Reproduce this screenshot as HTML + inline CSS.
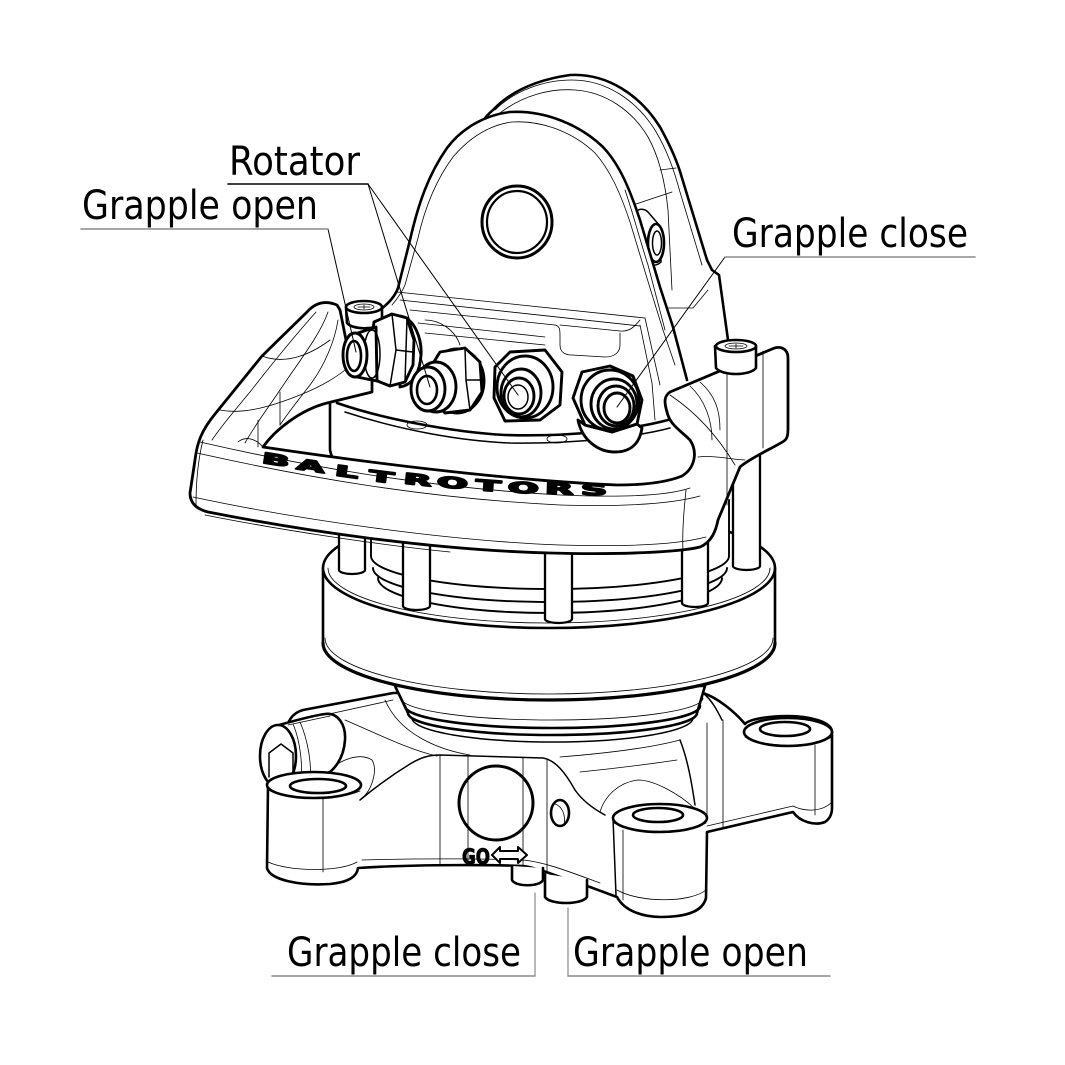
<!DOCTYPE html>
<html><head><meta charset="utf-8">
<style>
html,body{margin:0;padding:0;background:#fff;}
svg{display:block;}
.k{stroke-width:2.6}
.f{stroke-width:2.9}
.m{stroke-width:1.5}
.t{stroke-width:0.8}
</style></head><body>
<svg width="1065" height="1065" viewBox="0 0 1065 1065" xmlns="http://www.w3.org/2000/svg">
<rect width="1065" height="1065" fill="#fff"/>
<g fill="none" stroke="#000" stroke-linejoin="round" stroke-linecap="round">

<!-- ================= BASE ================= -->
<path class="k" fill="#fff" d="M393,693 L303,710 C292,713 287,722 287,730 L280,780 L268,786 L267,868 C270,880 300,886 330,884 C350,882 357,876 358,868 C420,864 500,865 523,866 C540,868 560,878 590,887 L617,897 C625,912 645,917 661,917 C690,917 703,910 706,898 L707,832 L793,812 C800,822 815,826 825,822 C831,818 832,812 832,808 L832,732 C832,722 810,716 788,716 C765,716 748,720 745,724 C735,712 718,698 703,693 Z"/>
<path class="m" d="M360,800 C372,790 392,775 410,764 C420,758 428,755 440,755 L543,758 C555,760 565,772 575,790 C582,800 592,808 605,815"/>
<path class="t" d="M440,755 L440,865 M468,756 L468,865 M523,757 L523,866 M547,760 L547,871 M323,797 L323,872 M623,830 L623,900 M707,723 L707,818 M723,720 L723,828 M815,745 L815,815"/>
<path class="t" d="M268,862 C290,872 340,872 357,862 M617,890 C640,903 690,903 706,890 M362,860 C430,858 500,859 523,860 C545,862 570,872 600,883 M707,826 L793,806 C805,812 822,812 832,802"/>
<path class="t" d="M320,716 L393,700 M345,720 C380,735 410,750 437,756 M560,757 C610,753 650,748 680,740 M580,772 C620,768 650,764 677,760 M385,700 C400,735 440,750 470,755"/>
<path class="m" d="M680,740 C688,760 692,785 695,805 M703,693 C712,700 718,712 722,720"/>
<path class="t" d="M330,770 C340,760 360,752 372,760 C378,770 372,790 362,798 M600,812 C605,795 620,782 638,780 C655,780 680,795 693,807"/>
<path class="m" d="M613,818 L616,895"/>
<!-- plug -->
<ellipse cx="496" cy="803" rx="37" ry="37" stroke-width="3"/>
<text x="462" y="864" font-family="DejaVu Sans, Liberation Sans, sans-serif" font-weight="bold" font-size="21" fill="#000" stroke="#000" stroke-width="0.9" textLength="28" lengthAdjust="spacingAndGlyphs">GO</text>
<path stroke-width="2" fill="#fff" d="M492,855 L500,847 L500,851 L518,851 L518,847 L527,855 L518,863 L518,859 L500,859 L500,863 Z"/>
<!-- small hole -->
<ellipse class="k" cx="560" cy="813" rx="9" ry="13"/>
<path class="t" d="M555,804 C562,806 566,815 564,825"/>
<!-- ports -->
<path class="k" fill="#fff" d="M512,866 L512,880 C515,887 540,887 543,880 L543,868"/>
<path class="k" fill="#fff" d="M545,874 L545,897 C550,905 582,905 587,897 L587,880"/>
<!-- left side fitting -->
<path class="k" fill="#fff" d="M272,727 C290,722 310,716 325,714 C338,712 346,725 345,740 C344,755 338,765 330,772 L290,786 Z"/>
<path class="t" d="M288,725 L330,716 M293,724 C300,740 304,770 300,786 M300,722 C308,740 312,765 310,782"/>
<ellipse class="k" fill="#fff" cx="278" cy="756" rx="18" ry="31"/>
<path class="m" d="M269,777 L269,753 L281,744 L293,753 L293,777"/>
<!-- bosses -->
<ellipse class="k" fill="#fff" cx="314" cy="785" rx="47" ry="13"/>
<ellipse class="k" cx="318" cy="786" rx="28" ry="7"/>
<path class="t" d="M270,790 C290,800 340,800 360,791"/>
<ellipse class="k" fill="#fff" cx="660" cy="818" rx="47" ry="14"/>
<ellipse class="k" cx="658" cy="815" rx="25" ry="7"/>
<path class="t" d="M614,823 C635,834 685,834 706,823"/>
<ellipse class="k" fill="#fff" cx="788" cy="732" rx="44" ry="14"/>
<ellipse class="k" cx="785" cy="729" rx="25" ry="7"/>
<path class="t" d="M745,737 C765,748 812,748 832,737"/>

<!-- ================= NECK ================= -->
<path class="k" fill="#fff" d="M395,686 L408,713 A144.5,22 0 0 0 697,713 L705,686 Z"/>
<path class="k" d="M405,706 A147.5,22 0 0 0 700,706"/>
<path class="t" d="M401,698 A151,22 0 0 0 703,698"/>
<path class="m" d="M412,718 A140.5,24 0 0 0 693,718"/>

<!-- ================= CYLINDER ================= -->
<path class="k" fill="#fff" d="M323,568 L323,643 A226,57 0 0 0 775,643 L775,568 Z"/>
<path d="M323,643 A226,57 0 0 0 775,643" stroke-width="3.2"/>
<path class="t" d="M325,638 A224,56 0 0 0 773,638"/>
<ellipse class="k" fill="#fff" cx="549" cy="568" rx="226" ry="60"/>
<path class="t" d="M328,568 A221,55 0 0 0 770,568"/>

<!-- drum -->
<path fill="#fff" stroke="none" d="M371,500 L371,556 A179,33 0 0 0 729,556 L729,500 Z"/>
<path stroke-width="1.9" d="M371,500 L371,556 A179,33 0 0 0 729,556 L729,500"/>
<path stroke-width="1.9" d="M373,568 A177,34 0 0 0 727,568"/>
<path stroke-width="1.9" d="M378,578 A172,35 0 0 0 722,578"/>

<!-- rods -->
<path stroke-width="2.3" fill="#fff" d="M339,500 L339,570 A13,4 0 0 0 365,570 L365,500"/>
<path stroke-width="2.3" fill="#fff" d="M403,500 L403,606 A13.5,4 0 0 0 430,606 L430,500"/>
<path stroke-width="2.3" fill="#fff" d="M545,500 L545,619 A13.5,4 0 0 0 572,619 L572,500"/>
<path stroke-width="2.3" fill="#fff" d="M682,500 L682,603 A13,4 0 0 0 708,603 L708,500"/>
<path stroke-width="2.3" fill="#fff" d="M733,420 L733,566 A13.5,4 0 0 0 760,566 L760,420"/>

<!-- ================= EAR BACK PLATE ================= -->
<path fill="#fff" stroke="none" d="M470,160 C478,135 485,120 493,110 C510,92 535,80 570,75 C607,73 640,95 660,127 C670,145 677,160 682,178 L707,260 L712,270 L719,275 L728,333 L728,420 L470,420 Z"/>
<path class="k" d="M480,125 C485,118 488,114 493,110 C510,92 535,80 570,75 C607,73 640,95 660,127 C670,145 677,160 682,178 L707,260 L712,270 L719,275 L728,340"/>
<path class="t" d="M495,110 C515,90 545,80 572,80 C606,80 636,100 655,130 C667,150 674,170 680,192 L702,265"/>
<path class="t" d="M500,113 C522,96 550,88 575,90 C605,92 632,110 648,137 C658,155 665,180 668,210 L672,290"/>
<path class="t" d="M633,205 L672,192 M657,308 L693,308 L708,290 M660,170 L676,168"/>

<!-- side fitting -->
<path class="m" fill="#fff" d="M632,228 C630,212 640,205 648,212 L660,226 L661,262 C655,268 645,265 640,255 Z"/>
<ellipse class="k" fill="#fff" cx="656" cy="243" rx="8" ry="19"/>
<ellipse class="m" cx="657" cy="243" rx="4.5" ry="12"/>

<!-- ================= EAR FRONT PLATE ================= -->
<path fill="#fff" stroke="none" d="M380,310 C390,302 395,296 398,288 L410,240 C418,205 428,175 447,148 C462,128 485,115 510,112 C545,110 580,125 603,147 C620,165 630,190 640,220 L660,287 L673,327 L687,378 L687,420 L380,420 Z"/>
<path class="k" d="M380,310 C390,302 395,296 398,288 L410,240 C418,205 428,175 447,148 C462,128 485,115 510,112 C545,110 580,125 603,147 C620,165 630,190 640,220 L660,287 L673,327 L687,380"/>
<path class="t" d="M392,305 C398,298 402,292 405,285 L418,238 C425,207 436,180 453,157 C470,137 490,125 512,122 C543,120 574,133 595,153 C610,170 620,192 630,222 L650,288 L663,330 L675,365"/>
<path class="t" d="M625,190 C632,210 640,240 648,265 L665,330"/>
<!-- hole -->
<ellipse cx="517" cy="222" rx="35" ry="36" stroke-width="3"/>
<ellipse cx="517" cy="222" rx="30" ry="31" stroke-width="2.2"/>

<!-- ear base / block lines -->
<path class="t" d="M397,292 L645,318 M400,300 L640,326 M410,310 L555,325 C560,326 560,330 560,336 L560,345 C560,352 565,355 572,355 L605,357 C615,357 620,352 620,345 L620,333 M560,325 L620,331 C630,332 635,326 640,320"/>
<path class="t" d="M418,323 L545,337 M425,333 L545,345 M425,320 C440,320 455,330 460,345 M640,325 L652,383 L655,420 M645,318 L660,385"/>
<!-- deck -->
<path class="k" d="M337,403 C380,418 450,432 505,435 C570,437 630,430 668,420"/>
<path class="m" d="M345,412 C400,430 460,441 510,443 C580,444 640,436 670,428"/>
<ellipse class="t" cx="417" cy="425" rx="10" ry="4"/>
<ellipse class="t" cx="557" cy="439" rx="10" ry="4"/>
<path class="k" d="M330,403 L330,450 C332,462 340,467 355,470"/>

<!-- ================= HANDLE ================= -->
<path stroke-width="2.8" fill="#fff" d="M337,305 C325,300 315,303 307,312 L262,356 L215,414 C202,430 197,442 195,460 L190,493 C190,503 196,509 208,512 C300,530 430,550 550,553 C620,555 680,552 700,547 C712,542 716,530 718,520 L740,467 C750,458 775,447 784,441 C787,439 788,436 788,428 L788,358 C788,349 781,345 772,349 L670,392 C664,396 664,402 667,412 C670,425 680,430 690,440 C698,452 695,468 682,476 C665,483 640,485 617,485 C500,480 350,460 263,447 C275,430 300,410 327,403 L372,392 L372,375 C360,370 348,355 345,335 L340,310 Z"/>
<!-- front bar lines -->
<path class="t" d="M200,442 C300,465 420,487 560,495 C630,498 670,495 690,488"/>
<path class="t" d="M197,453 C300,476 420,498 560,505 C630,507 675,503 700,496"/>
<path class="t" d="M193,497 C300,520 450,541 560,545 C630,547 680,544 706,537"/>
<path class="t" d="M203,440 C198,460 196,480 196,505 M686,490 C684,510 682,530 683,552 M205,515 C280,530 380,545 450,552"/>
<!-- left arm contours -->
<path class="t" d="M316,312 C300,330 275,360 250,392 C235,410 222,425 212,440"/>
<path class="t" d="M328,312 C320,335 300,360 280,390 C268,408 255,425 245,443"/>
<path class="t" d="M338,320 C335,340 325,365 310,385 C300,398 290,410 280,425"/>
<path class="t" d="M262,356 C285,365 310,355 330,340 M220,410 C245,415 275,405 300,395 C320,387 335,378 345,370 M258,420 L258,447 M280,392 L280,425 M238,442 C245,436 255,438 263,447"/>
<!-- right arm contours -->
<path class="t" d="M727,362 L727,505 M763,351 L763,448 M670,395 C700,415 720,440 735,465 M700,382 C715,395 720,410 720,430 M698,457 C715,455 735,460 745,460 M690,386 C705,400 712,420 712,440"/>
<!-- logo -->
<g font-family="DejaVu Sans, Liberation Sans, sans-serif" font-weight="bold" font-size="15" fill="#000" stroke="#000" stroke-width="1.6" stroke-linejoin="round" text-anchor="middle">
<text transform="translate(275,465) rotate(9) scale(2.4,1)">B</text>
<text transform="translate(310,471) rotate(8.5) scale(2.4,1)">A</text>
<text transform="translate(346,477) rotate(8) scale(2.4,1)">L</text>
<text transform="translate(381,482) rotate(7) scale(2.4,1)">T</text>
<text transform="translate(417,485) rotate(6) scale(2.4,1)">R</text>
<text transform="translate(452,488) rotate(5) scale(2.4,1)">O</text>
<text transform="translate(488,491) rotate(4) scale(2.4,1)">T</text>
<text transform="translate(523,493) rotate(3) scale(2.4,1)">O</text>
<text transform="translate(559,494) rotate(2) scale(2.4,1)">R</text>
<text transform="translate(594,495) rotate(1.5) scale(2.4,1)">S</text>
</g>

<!-- ================= BOLTS ================= -->
<path class="k" fill="#fff" d="M346,307 L347,323 C352,330 378,330 382,323 L382,307 Z"/>
<ellipse class="k" fill="#fff" cx="364" cy="307" rx="18" ry="6"/>
<ellipse class="t" cx="364" cy="307" rx="10" ry="3"/>
<path class="t" d="M358,307 L370,307 M364,305 L364,309"/>
<path class="k" fill="#fff" d="M715,346 L716,368 C722,376 750,376 756,368 L756,346 Z"/>
<ellipse class="k" fill="#fff" cx="736" cy="346" rx="20" ry="6"/>
<ellipse class="t" cx="736" cy="346" rx="11" ry="3"/>
<path class="t" d="M729,346 L743,346 M736,344 L736,348"/>

<!-- ================= FITTINGS ================= -->
<!-- fitting 1 -->
<path class="f" fill="#fff" d="M400,316 C415,318 422,340 421,355 C420,372 413,385 400,387 Z"/>
<path class="f" fill="#fff" d="M374,322 L392,314 L407,318 L414,340 L413,365 L405,382 L390,386 L375,380 L370,352 Z"/>
<path class="m" d="M392,314 L396,350 L390,386 M396,350 L413,352 M407,318 L405,382"/>
<path class="f" fill="#fff" d="M355,334 L376,327 L377,381 L357,377 Z"/>
<ellipse class="m" cx="372" cy="354" rx="8" ry="24"/>
<ellipse class="f" fill="#fff" cx="355" cy="355" rx="12" ry="22"/>
<ellipse class="k" cx="354" cy="356" rx="7" ry="15"/>
<!-- fitting 2 -->
<ellipse class="f" fill="#fff" cx="457" cy="381" rx="27" ry="32"/>
<path class="f" fill="#fff" d="M440,352 L465,348 L480,362 L482,392 L470,410 L445,413 L432,398 L432,365 Z"/>
<path class="m" d="M465,348 L466,380 L470,410 M466,380 L482,380"/>
<ellipse class="f" fill="#fff" cx="436" cy="387" rx="20" ry="25"/>
<ellipse class="f" fill="#fff" cx="428" cy="389" rx="17" ry="22"/>
<ellipse class="k" cx="427" cy="390" rx="10" ry="14"/>
<!-- fitting 3 -->
<path class="f" fill="#fff" d="M510,352 L545,350 L562,372 L560,405 L540,420 L505,421 L494,398 L495,367 Z"/>
<ellipse class="f" fill="#fff" cx="525" cy="387" rx="28" ry="31"/>
<ellipse class="f" fill="#fff" cx="521" cy="393" rx="20" ry="24"/>
<ellipse class="f" fill="#fff" cx="519" cy="396" rx="15" ry="18"/>
<ellipse class="m" cx="518" cy="397" rx="10" ry="12"/>
<!-- fitting 4 -->
<path class="f" fill="#fff" d="M578,420 C582,440 598,452 615,452 C632,452 640,442 642,428 L637,424 L612,432 L585,425 Z"/>
<path class="f" fill="#fff" d="M582,372 L610,366 L633,376 L642,400 L637,424 L612,432 L585,425 L573,398 Z"/>
<ellipse class="f" fill="#fff" cx="610" cy="400" rx="29" ry="30"/>
<ellipse class="f" fill="#fff" cx="614" cy="404" rx="23" ry="25"/>
<ellipse class="f" fill="#fff" cx="616" cy="406" rx="18" ry="20"/>
<ellipse class="f" fill="#fff" cx="617" cy="408" rx="13" ry="15"/>

<!-- ================= LEADERS ================= -->
<path stroke-width="1" d="M328,229 L356,352"/>
<path stroke-width="1" d="M368,184 L430,387 M368,184 L518,395"/>
<path stroke-width="1" d="M725,257 L617,407"/>
<path stroke-width="1.6" d="M228,184 L368,184"/>
<path stroke="#8a8a8a" stroke-width="1.6" d="M81,229 L328,229 M725,257 L975,257 M272,976 L535,976 M568,976 L830,976"/>
<path stroke="#8a8a8a" stroke-width="1.2" d="M535,893 L535,976 M568,908 L568,976"/>
</g>

<!-- ================= LABELS ================= -->
<g font-family="DejaVu Sans, Liberation Sans, sans-serif" font-size="40" fill="#000">
<text x="229" y="175" textLength="131" lengthAdjust="spacingAndGlyphs">Rotator</text>
<text x="82" y="219" textLength="236" lengthAdjust="spacingAndGlyphs">Grapple open</text>
<text x="732" y="247" textLength="236" lengthAdjust="spacingAndGlyphs">Grapple close</text>
<text x="287" y="966" textLength="234" lengthAdjust="spacingAndGlyphs">Grapple close</text>
<text x="573" y="966" textLength="235" lengthAdjust="spacingAndGlyphs">Grapple open</text>
</g>
</svg>
</body></html>
